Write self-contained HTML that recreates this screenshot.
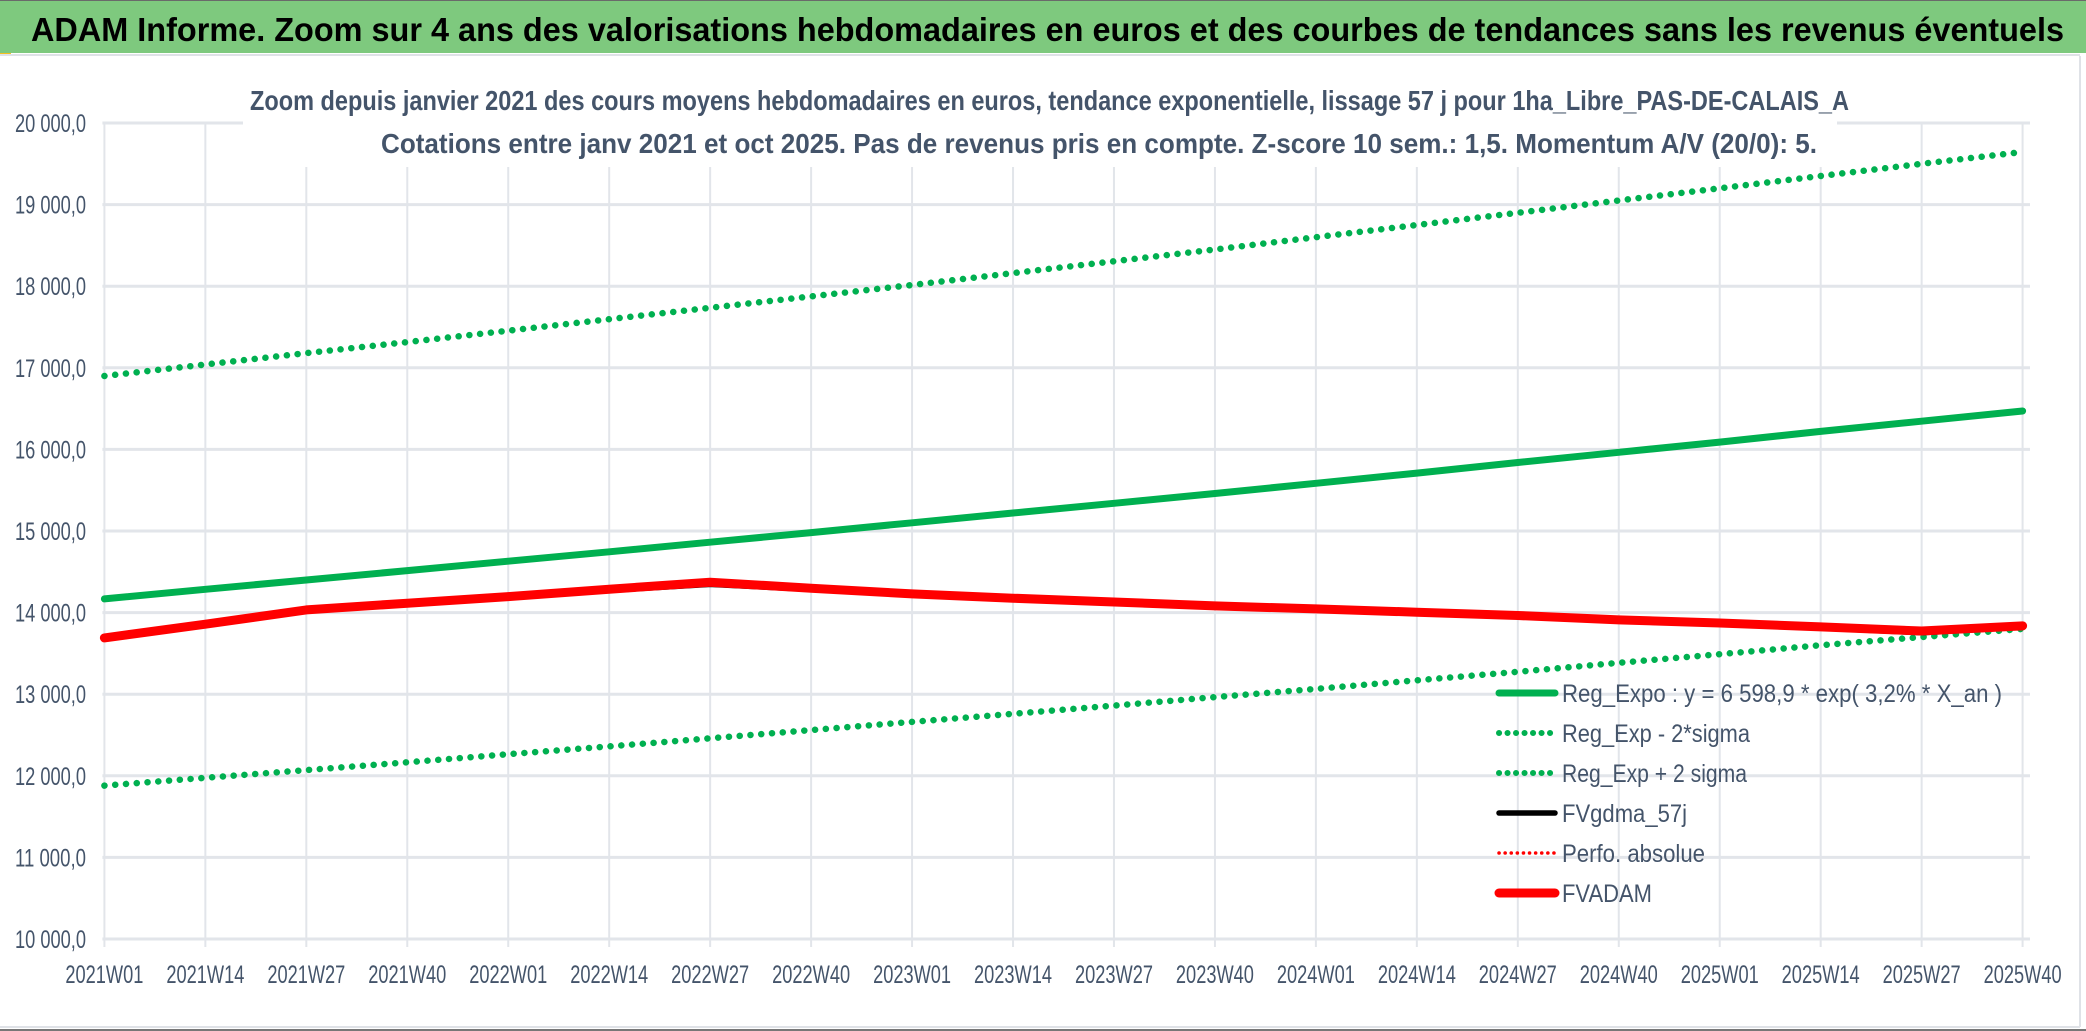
<!DOCTYPE html>
<html><head><meta charset="utf-8"><style>
html,body{margin:0;padding:0;background:#fff}
svg{display:block}
text{font-family:"Liberation Sans",sans-serif}
</style></head><body>
<svg id="chart" width="2086" height="1031" viewBox="0 0 2086 1031" xmlns="http://www.w3.org/2000/svg">
<rect x="0" y="0" width="2086" height="1031" fill="#fff"/>
<rect x="0" y="0" width="2086" height="53" fill="#7ec97e"/>
<rect x="0" y="0" width="2086" height="1" fill="#6a6a6a"/>
<rect x="0" y="53" width="11" height="3" fill="#f5c020"/>
<line x1="0" y1="55" x2="2080" y2="55" stroke="#dfe2e7" stroke-width="2"/>
<text x="31" y="41" font-size="33" font-weight="bold" fill="#000" textLength="2033" lengthAdjust="spacingAndGlyphs">ADAM Informe. Zoom sur 4 ans des valorisations hebdomadaires en euros et des courbes de tendances sans les revenus éventuels</text>
<line x1="2080" y1="56" x2="2080" y2="1027" stroke="#dfe2e7" stroke-width="2"/>
<line x1="0" y1="1027" x2="2080" y2="1027" stroke="#dfe2e7" stroke-width="2"/>
<line x1="0" y1="1030" x2="2086" y2="1030" stroke="#777" stroke-width="2"/>
<g id="grid"></g>
<rect x="243" y="78" width="1594" height="89" fill="#fff"/>
<text x="250" y="110" font-size="28" font-weight="bold" fill="#44546a" textLength="1599" lengthAdjust="spacingAndGlyphs">Zoom depuis janvier 2021 des cours moyens hebdomadaires en euros, tendance exponentielle, lissage 57 j pour 1ha_Libre_PAS-DE-CALAIS_A</text>
<text x="381" y="153" font-size="28" font-weight="bold" fill="#44546a" textLength="1436" lengthAdjust="spacingAndGlyphs">Cotations entre janv 2021 et oct 2025. Pas de revenus pris en compte. Z-score 10 sem.: 1,5. Momentum A/V (20/0): 5.</text>
<g id="series"></g>
<g id="legend"></g>
</svg>
<script>
const xLabels = ["2021W01","2021W14","2021W27","2021W40","2022W01","2022W14","2022W27","2022W40","2023W01","2023W14","2023W27","2023W40","2024W01","2024W14","2024W27","2024W40","2025W01","2025W14","2025W27","2025W40"];
const yTicks = [10000,11000,12000,13000,14000,15000,16000,17000,18000,19000,20000];
const yTickLabels = ["10 000,0","11 000,0","12 000,0","13 000,0","14 000,0","15 000,0","16 000,0","17 000,0","18 000,0","19 000,0","20 000,0"];
const regExpo = [14168,14285,14400,14515,14630,14745,14863,14980,15100,15220,15340,15460,15585,15710,15840,15965,16090,16220,16345,16470];
const regUpper = [16900,17040,17180,17315,17455,17595,17735,17875,18015,18160,18305,18450,18600,18750,18900,19050,19200,19350,19500,19645];
const regLower = [11880,11975,12070,12165,12265,12360,12460,12560,12660,12760,12860,12965,13065,13170,13275,13385,13490,13600,13700,13800];
const fvgdma = [13690,13858,14033,14115,14196,14287,14362,14299,14229,14176,14130,14082,14045,14005,13965,13910,13873,13825,13768,13837];
const fvadam = [13690,13858,14033,14115,14196,14287,14372,14299,14229,14176,14130,14082,14045,14005,13965,13910,13873,13825,13775,13837];

const NS="http://www.w3.org/2000/svg";
const X0=104.4, X1=2022.6, Y0=939, PX=81.6;
const xs = i => X0 + i*(X1-X0)/(xLabels.length-1);
const ys = v => Y0 - (v-10000)/1000*PX;
function mk(tag, attrs, parent){const e=document.createElementNS(NS,tag);for(const k in attrs)e.setAttribute(k,attrs[k]);parent.appendChild(e);return e;}
const grid=document.getElementById('grid');
yTicks.forEach((v,i)=>{
  const l=mk('line',{x1:X0-2,x2:2030,y1:ys(v),y2:ys(v),stroke:'#e2e5ea','stroke-width':3},grid);
  
  
  const t=mk('text',{x:86,y:ys(v)+9,'font-size':25,fill:'#44546a','text-anchor':'end',textLength:71,lengthAdjust:'spacingAndGlyphs'},grid);
  t.textContent=yTickLabels[i];
  
  
});
xLabels.forEach((lab,i)=>{
  const l=mk('line',{x1:xs(i),x2:xs(i),y1:ys(20000),y2:947,stroke:'#e2e5ea','stroke-width':2},grid);
  
  
  const t=mk('text',{x:xs(i),y:983,'font-size':25,fill:'#44546a','text-anchor':'middle',textLength:78,lengthAdjust:'spacingAndGlyphs'},grid);
  t.textContent=lab;
  
  
});
const series=document.getElementById('series');
function pts(arr){return arr.map((v,i)=>xs(i).toFixed(1)+','+ys(v).toFixed(1)).join(' ');}
function line(arr,color,w,dash,name){
  const a={points:pts(arr),fill:'none',stroke:color,'stroke-width':w,'stroke-linecap':'round','stroke-linejoin':'round'};
  if(dash)a['stroke-dasharray']=dash;
  const p=mk('polyline',a,series);
  
  
}
line(regUpper,'#00b050',6.5,'0.1 10.7','reg-exp-plus-2-sigma-line');
line(regLower,'#00b050',6.5,'0.1 10.7','reg-exp-minus-2-sigma-line');
line(regExpo,'#00b050',7,null,'reg-expo-line');
line(fvgdma,'#000',8,null,'fvgdma-57j-line');
line(fvadam,'#ff0000',9,null,'fvadam-line');

const legendItems=[
 ["Reg_Expo : y = 6 598,9 * exp( 3,2% *  X_an )",'#00b050',7,null,440],
 ["Reg_Exp - 2*sigma",'#00b050',6,'0.1 8.4',188],
 ["Reg_Exp + 2 sigma",'#00b050',6,'0.1 8.4',185],
 ["FVgdma_57j",'#000',5.5,null,125],
 ["Perfo. absolue",'#ff0000',3.5,'0.1 6',143],
 ["FVADAM",'#ff0000',9,null,90]
];
const legend=document.getElementById('legend');
legendItems.forEach((it,i)=>{
  const cy=693+i*40;
  const g=mk('g',{},legend);
  
  
  const a={x1:1499,x2:1555,y1:cy,y2:cy,stroke:it[1],'stroke-width':it[2],'stroke-linecap':'round'};
  if(it[3])a['stroke-dasharray']=it[3];
  mk('line',a,g);
  const t=mk('text',{x:1562,y:cy+9,'font-size':25,fill:'#44546a',textLength:it[4],lengthAdjust:'spacingAndGlyphs'},g);
  t.textContent=it[0];
});
</script>
</body></html>
